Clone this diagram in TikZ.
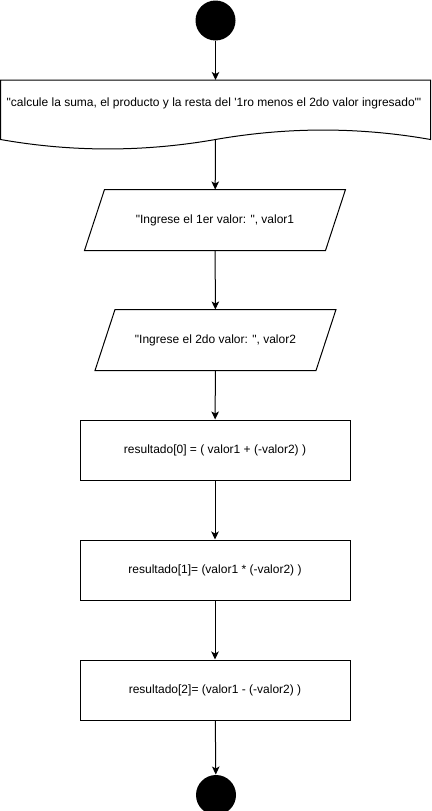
\documentclass[tikz,border=0pt]{standalone}
\usepackage{fontspec}
\newfontfamily\plainsans{Liberation Sans}
\usetikzlibrary{arrows.meta}
\begin{document}
\begin{tikzpicture}[x=1pt,y=-1pt,line width=1pt,
  font=\plainsans\fontsize{12}{14}\selectfont,
  flow/.style={-{Stealth[length=8pt,width=7.5pt,inset=2pt]}},
  procbox/.style={draw,rectangle,minimum width=270pt,minimum height=60pt,inner sep=0pt},
  iobox/.style={rectangle,minimum height=60pt,inner sep=0pt},
  term/.style={circle,fill=black,minimum size=40pt,inner sep=0pt}]
\useasboundingbox (0,0) rectangle (431,811);
% start
\node[term] (start) at (215.5,20.5) {};
% document shape
\draw (0.5,80) -- (430.5,80) -- (430.5,139.5)
  .. controls (359.2,126.9) and (287.3,126.9) .. (215.5,139.5)
  .. controls (143.7,152.1) and (71.8,152.1) .. (0.5,139.5) -- cycle;
\node (doc) at (214,103) {"calcule la suma, el producto y la resta del '1ro menos el 2do valor ingresado'"};
\coordinate (doctop) at (215.5,80);
\coordinate (docwave) at (215.5,139.5);
% inputs
\node[iobox,minimum width=260pt] (in1) at (215,220) {"Ingrese el 1er valor: ", valor1};
\draw ([xshift=20pt]in1.north west) -- (in1.north east) -- ([xshift=-20pt]in1.south east) -- (in1.south west) -- cycle;
\node[iobox,minimum width=240pt] (in2) at (215.5,340) {"Ingrese el 2do valor: ", valor2};
\draw ([xshift=20pt]in2.north west) -- (in2.north east) -- ([xshift=-20pt]in2.south east) -- (in2.south west) -- cycle;
% processes
\node[procbox] (r0) at (215,450) {resultado[0] = ( valor1 + (-valor2) )};
\node[procbox] (r1) at (215,570) {resultado[1]= (valor1 * (-valor2) )};
\node[procbox] (r2) at (215,690) {resultado[2]= (valor1 - (-valor2) )};
% end
\node[term] (stop) at (216,795) {};
% connectors
\draw[flow] (start) -- (doctop);
\draw[flow] (docwave) -- (in1);
\draw[flow] (in1) -- (in2);
\draw[flow] (in2) -- (r0);
\draw[flow] (r0) -- (r1);
\draw[flow] (r1) -- (r2);
\draw[flow] (r2) -- (stop);
\end{tikzpicture}
\end{document}
